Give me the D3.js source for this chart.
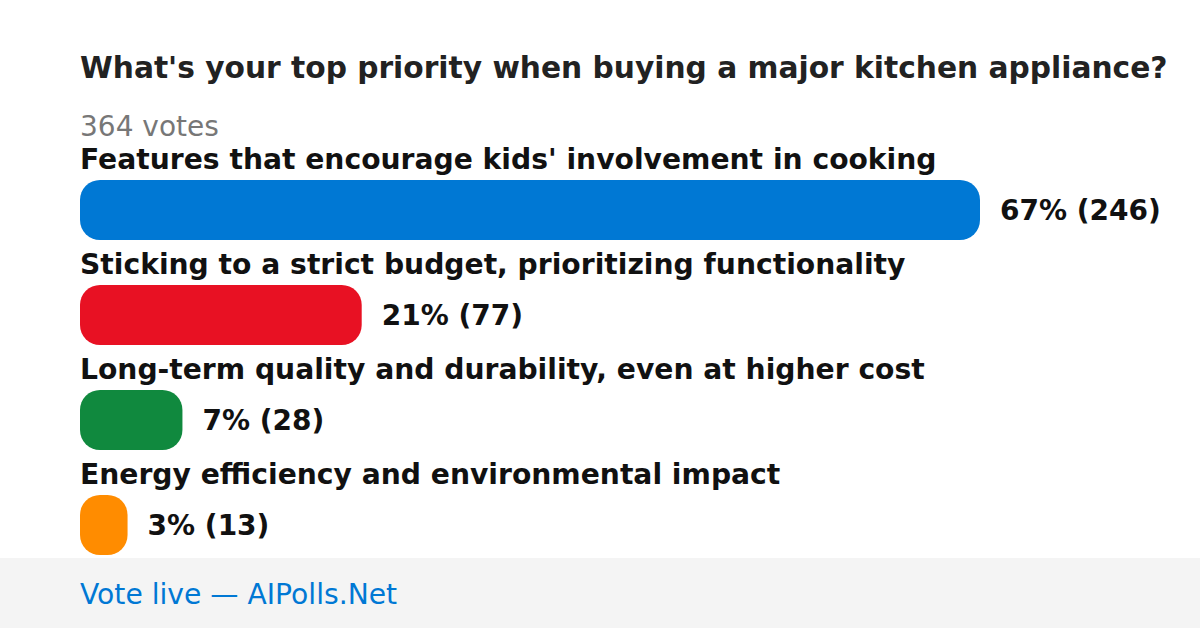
<!DOCTYPE html>
<html><head><meta charset="utf-8">
<script src="https://cdn.jsdelivr.net/npm/d3@7"></script>
<style>html,body{margin:0;padding:0;background:#fff;}svg{display:block;font-family:"DejaVu Sans",sans-serif;}</style>
</head><body><svg id="c" width="1200" height="628"></svg>
<script>
const title = "What's your top priority when buying a major kitchen appliance?";
const totalVotes = "364 votes";
const categories = [
  "Features that encourage kids' involvement in cooking",
  "Sticking to a strict budget, prioritizing functionality",
  "Long-term quality and durability, even at higher cost",
  "Energy efficiency and environmental impact"
];
const counts = [246, 77, 28, 13];
const percents = [67, 21, 7, 3];
const colors = ["#0078D4", "#E81123", "#10893E", "#FF8C00"];
const footer = "Vote live — AIPolls.Net";

const svg = d3.select("#c");
svg.append("rect").attr("x",0).attr("y",0).attr("width",1200).attr("height",628).attr("fill","#fff");

svg.append("text").attr("x",80).attr("y",78).attr("font-size",29.7).attr("font-weight","bold")
  .attr("fill","#222").text(title);
svg.append("text").attr("x",80).attr("y",136).attr("font-size",28).attr("fill","#777").text(totalVotes);

const x = d3.scaleLinear().domain([0, d3.max(counts)]).range([0, 900]);
const y = d3.scaleBand().domain(d3.range(categories.length)).range([145, 565]).paddingInner(0).paddingOuter(0);

const g = svg.selectAll("g.row").data(categories).join("g").attr("class","row")
  .attr("transform",(d,i)=>`translate(80,${y(i)})`);
g.append("text").attr("x",0).attr("y",24).attr("font-size",28.2).attr("font-weight","bold").attr("fill","#111")
  .text(d=>d);
g.append("rect").attr("x",0).attr("y",35).attr("height",60).attr("rx",20).attr("ry",20)
  .attr("width",(d,i)=>x(counts[i])).attr("fill",(d,i)=>colors[i]);
g.append("text").attr("x",(d,i)=>x(counts[i])+20).attr("y",65).attr("dy","0.35em")
  .attr("font-size",28).attr("font-weight","bold").attr("fill","#111")
  .text((d,i)=>`${percents[i]}% (${counts[i]})`);

svg.append("rect").attr("x",0).attr("y",558).attr("width",1200).attr("height",70).attr("fill","#f4f4f4");
svg.append("text").attr("x",80).attr("y",604).attr("font-size",28.2).attr("fill","#0078D4").text(footer);
</script></body></html>
